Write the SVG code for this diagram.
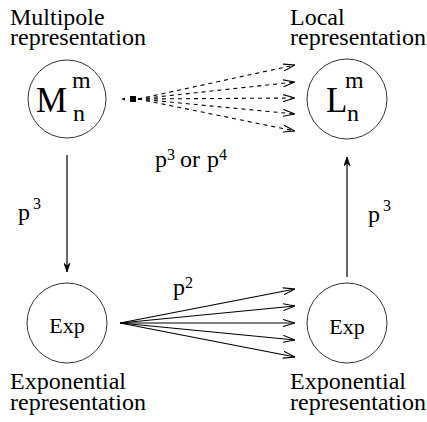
<svg xmlns="http://www.w3.org/2000/svg" width="427" height="422" viewBox="0 0 427 422">
<style>
.t{font-family:'Liberation Serif','DejaVu Serif',serif;fill:#000}
.lbl{font-size:24px}
.big{font-size:35px}
.idx{font-size:24px}
.sup{font-size:16px}
.exp{font-size:22px}
circle{fill:none;stroke:#333;stroke-width:1}
.dash{stroke:#000;stroke-width:1.1;stroke-dasharray:4 4;fill:none}
.solid{stroke:#000;stroke-width:1.2;fill:none}
</style>
<defs>
<marker id="ah" viewBox="0 0 12 8" refX="12" refY="4" markerWidth="12" markerHeight="8" markerUnits="userSpaceOnUse" orient="auto">
<path d="M0,0.5 L12,4 L0,7.5" fill="none" stroke="#000" stroke-width="1.1"/>
</marker>
<marker id="ahv" viewBox="0 0 10 8" refX="10" refY="4" markerWidth="12" markerHeight="7" markerUnits="userSpaceOnUse" orient="auto">
<path d="M0,0.5 L10,4 L0,7.5 L3,4 Z" fill="#000" stroke="#000" stroke-width="0.8"/>
</marker>
</defs>
<g font-family="Liberation Serif, DejaVu Serif, serif">
<g id="multipole">
<text class="t lbl" x="10" y="25">Multipole</text>
<text class="t lbl" x="10" y="45">representation</text>
<circle cx="67" cy="99" r="39"/>
<text class="t big" x="36" y="112">M</text>
<text class="t idx" x="72" y="88">m</text>
<text class="t idx" x="73" y="121">n</text>
</g>
<g id="local">
<text class="t lbl" x="290" y="25">Local</text>
<text class="t lbl" x="290" y="45">representation</text>
<circle cx="347" cy="99" r="40"/>
<text class="t big" x="326" y="112">L</text>
<text class="t idx" x="345" y="88">m</text>
<text class="t idx" x="347" y="121">n</text>
</g>
<g id="exp-left">
<circle cx="67" cy="323" r="40"/>
<text class="t exp" x="67" y="333" text-anchor="middle">Exp</text>
<text class="t lbl" x="10" y="389">Exponential</text>
<text class="t lbl" x="10" y="410">representation</text>
</g>
<g id="exp-right">
<circle cx="347" cy="323" r="40"/>
<text class="t exp" x="347" y="334" text-anchor="middle">Exp</text>
<text class="t lbl" x="290" y="389">Exponential</text>
<text class="t lbl" x="290" y="410">representation</text>
</g>
<g id="connectors">
<rect x="130" y="96" width="6" height="6" fill="#000"/>
<path d="M121,99 l4,-1.5 v3 z" fill="#000"/>
<line class="dash" x1="138" y1="99" x2="295" y2="65" marker-end="url(#ah)"/>
<line class="dash" x1="138" y1="99" x2="295" y2="82" marker-end="url(#ah)"/>
<line class="dash" x1="138" y1="99" x2="295" y2="98" marker-end="url(#ah)"/>
<line class="dash" x1="138" y1="99" x2="295" y2="114" marker-end="url(#ah)"/>
<line class="dash" x1="138" y1="99" x2="295" y2="131" marker-end="url(#ah)"/>
<line class="solid" x1="67" y1="155" x2="67" y2="272" marker-end="url(#ahv)"/>
<line class="solid" x1="347" y1="277" x2="347" y2="157" marker-end="url(#ahv)"/>
<line class="solid" x1="120" y1="323" x2="295" y2="289" marker-end="url(#ah)"/>
<line class="solid" x1="120" y1="323" x2="295" y2="306" marker-end="url(#ah)"/>
<line class="solid" x1="120" y1="323" x2="295" y2="323" marker-end="url(#ah)"/>
<line class="solid" x1="120" y1="323" x2="295" y2="340" marker-end="url(#ah)"/>
<line class="solid" x1="120" y1="323" x2="295" y2="357" marker-end="url(#ah)"/>
</g>
<g id="labels">
<text class="t lbl" x="155" y="167">p</text>
<text class="t sup" x="167" y="160">3</text>
<text class="t lbl" x="180" y="167">or</text>
<text class="t lbl" x="207" y="167">p</text>
<text class="t sup" x="219" y="160">4</text>
<text class="t lbl" x="18" y="220">p</text>
<text class="t sup" x="33" y="209">3</text>
<text class="t lbl" x="368" y="222">p</text>
<text class="t sup" x="383" y="211">3</text>
<text class="t lbl" x="173" y="295">p</text>
<text class="t sup" x="185" y="288">2</text>
</g>
</g>
</svg>
